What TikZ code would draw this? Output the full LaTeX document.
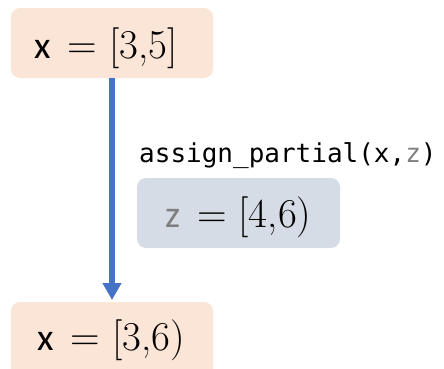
\documentclass[tikz,border=0pt]{standalone}
\usepackage{fontspec}
\usetikzlibrary{arrows.meta}
\newfontfamily\carlito{Carlito}
\newfontfamily\monofont{DejaVu Sans Mono}
\definecolor{peach}{HTML}{FBE5D6}
\definecolor{bluegray}{HTML}{D6DCE5}
\definecolor{arrowblue}{HTML}{4472C4}
\definecolor{txtgray}{HTML}{7F7F7F}
\newcommand{\valvar}[1]{{\carlito\fontsize{38}{44}\selectfont #1}}
\newcommand{\valeq}[1]{\hspace{17pt}={}\hspace{12pt}#1}
\begin{document}
\begin{tikzpicture}[x=1pt,y=-1pt,
  valtext/.style={font=\fontsize{41}{48}\selectfont, inner sep=0pt, anchor=base west},
  conn/.style={draw=arrowblue, line width=5.5pt, -{Triangle[width=18pt,length=17pt]}, shorten >=2pt}]
\useasboundingbox (0,0) rectangle (444,368);
\fill[peach, rounded corners=9pt] (11,8) rectangle (213,78);
\node (top) at (34,58) [valtext] {\valvar{x}\valeq{[3,5]}};
\coordinate (topb) at (112,78);
\fill[peach, rounded corners=9pt] (11,302) rectangle (213,380);
\node (bot) at (37,350) [valtext] {\valvar{x}\valeq{[3,6)}};
\coordinate (bott) at (112,302);
\draw[conn] (topb) -- (bott);
\node (lbl) at (139,162) [font=\monofont\fontsize{26}{30}\selectfont, inner sep=0pt, anchor=base west] {assign\_partial(x,\textcolor{txtgray}{z})};
\fill[bluegray, rounded corners=9pt] (137,178) rectangle (340,248);
\node (zv) at (165,227) [valtext] {\valvar{\color{txtgray}z}\valeq{[4,6)}};
\end{tikzpicture}
\end{document}
